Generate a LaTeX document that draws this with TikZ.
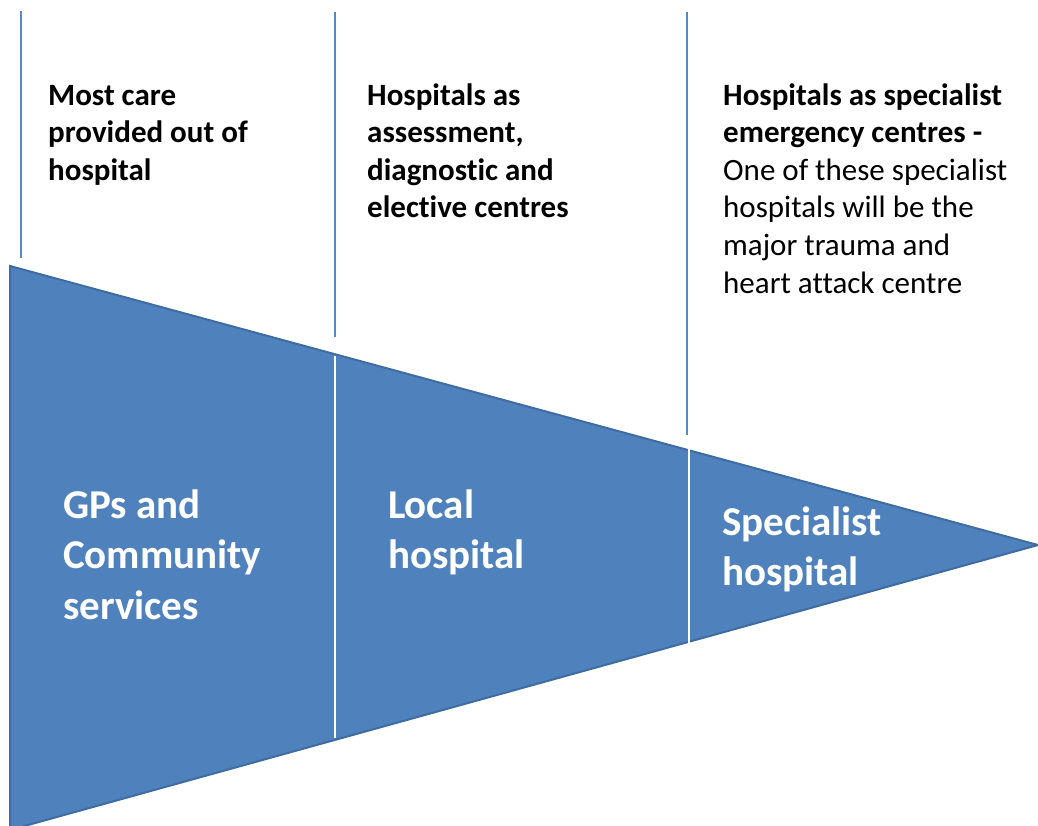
\documentclass[tikz,border=0pt]{standalone}
\usepackage{fontspec}
\setmainfont{Carlito}[Ligatures=NoCommon]
\definecolor{tri}{HTML}{4F81BD}
\definecolor{triedge}{HTML}{3F6CA3}
\definecolor{sep}{HTML}{5B88C4}
\begin{document}
\begin{tikzpicture}[x=1pt,y=-1pt,
  toptext/.style={anchor=base west,inner sep=0pt,align=left,text=black,
    font=\fontsize{31}{37.6}\selectfont},
  intext/.style={anchor=base west,inner sep=0pt,align=left,text=white,
    font=\fontsize{41}{50.5}\selectfont\bfseries},
  sepline/.style={draw=sep,line width=1.4pt},
  inline/.style={draw=white,line width=1.4pt}]
\useasboundingbox (0,0) rectangle (1038,825);
\begin{scope}
\clip (0,0) rectangle (1038,825);
\coordinate (tl) at (10,266);
\coordinate (tip) at (1038,545);
\coordinate (bl) at (10,830);
\fill[tri] (tl) -- (tip) -- (bl) -- cycle;
\draw[triedge,line width=2pt,line join=miter] (tl) -- (tip) -- (bl) -- cycle;
\end{scope}
% separator lines above triangle
\coordinate (a1) at (21,11); \coordinate (a2) at (21,258);
\coordinate (b1) at (335,12); \coordinate (b2) at (335,337);
\coordinate (c1) at (687,12); \coordinate (c2) at (687,435);
\draw[sepline] (a1) -- (a2);
\draw[sepline] (b1) -- (b2);
\draw[sepline] (c1) -- (c2);
% white lines inside triangle
\coordinate (d1) at (335,356); \coordinate (d2) at (335,738);
\coordinate (e1) at (689,449); \coordinate (e2) at (689,643);
\draw[inline] (d1) -- (d2);
\draw[inline] (e1) -- (e2);
% top texts (anchor = baseline of last line)
\node[toptext] (t1) at (48,180.2) {\bfseries Most care\\\bfseries provided out of\\\bfseries hospital};
\node[toptext] (t2) at (367,217.8) {\bfseries Hospitals as\\\bfseries assessment,\\\bfseries diagnostic and\\\bfseries elective centres};
\node[toptext] (t3) at (723,293) {\bfseries Hospitals as specialist\\\bfseries emergency centres -\\One of these specialist\\hospitals will be the\\major trauma and\\heart attack centre};
% inner texts
\node[intext] (i1) at (63,619) {GPs and\\Community\\services};
\node[intext] (i2) at (388,568.5) {Local\\hospital};
\node[intext] (i3) at (722,585.5) {Specialist\\hospital};
\end{tikzpicture}
\end{document}
